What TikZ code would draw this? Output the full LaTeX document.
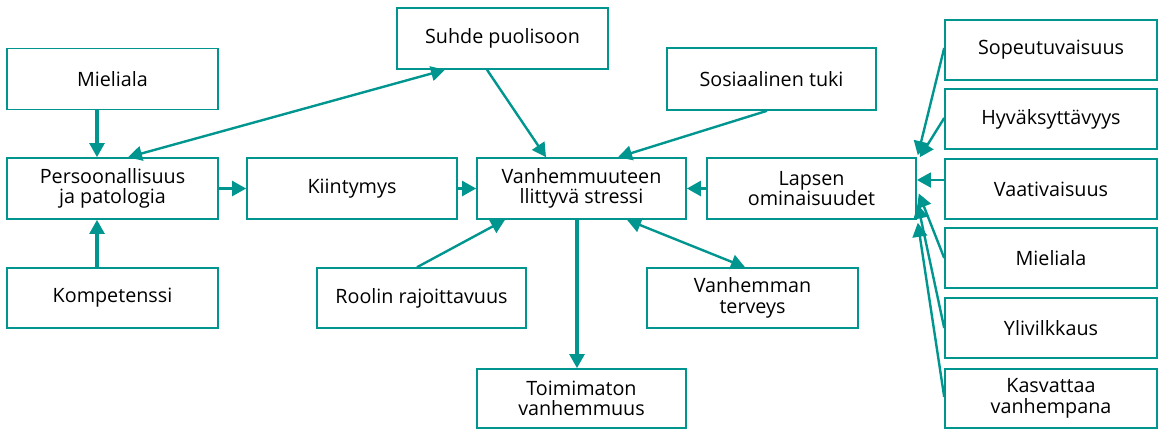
\documentclass[tikz,border=0pt]{standalone}
\usepackage{fontspec}
\setmainfont{Open Sans}
\usetikzlibrary{arrows.meta,calc}
\definecolor{teal1}{HTML}{00968F}
\begin{document}
\begin{tikzpicture}[x=0.75pt,y=-0.75pt,
  box/.style={draw=teal1,line width=1.6pt*0.75,inner sep=0pt,align=center,
    minimum width=210*0.75pt,minimum height=61*0.75pt,
    font=\fontsize{14.8}{15.5}\selectfont},
  arr/.style={draw=teal1,line width=2.4pt*0.75,-{Triangle[length=10.5pt,width=11pt]}},
  darr/.style={draw=teal1,line width=2.4pt*0.75,{Triangle[length=10.5pt,width=11pt]}-{Triangle[length=10.5pt,width=11pt]}},
  varr/.style={draw=teal1,line width=3.2pt*0.75,-{Triangle[length=10.5pt,width=11pt]}}]
\useasboundingbox (0,0) rectangle (1162,430);
% nodes
\node[box,minimum width=211*0.75pt] (mieli1) at (112.5,79) {Mieliala};
\node[box,minimum width=211*0.75pt] (pers) at (112.5,188.5) {Persoonallisuus\\ja patologia};
\node[box,minimum width=211*0.75pt,minimum height=60*0.75pt] (komp) at (112.5,298) {Kompetenssi};
\node[box] (kiin) at (352,188.5) {Kiintymys};
\node[box,minimum width=211*0.75pt] (suhde) at (502.5,38.5) {Suhde puolisoon};
\node[box,minimum width=209*0.75pt,minimum height=62*0.75pt] (sos) at (771.5,79) {Sosiaalinen tuki};
\node[box,minimum width=209*0.75pt] (vanh) at (581.5,188.5) {Vanhemmuuteen\\llittyvä stressi};
\node[box,minimum width=209*0.75pt] (lapsen) at (811.5,188.5) {Lapsen\\ominaisuudet};
\node[box,minimum width=209*0.75pt,minimum height=60*0.75pt] (rool) at (421.5,298) {Roolin rajoittavuus};
\node[box,minimum width=211*0.75pt,minimum height=60*0.75pt] (terv) at (752.5,298) {Vanhemman\\terveys};
\node[box,minimum width=209*0.75pt,minimum height=59*0.75pt] (toim) at (581.5,398.5) {Toimimaton\\vanhemmuus};
\node[box,minimum width=212*0.75pt,minimum height=60*0.75pt] (sop) at (1051,50) {Sopeutuvaisuus};
\node[box,minimum width=212*0.75pt,minimum height=60*0.75pt] (hyv) at (1051,119) {Hyväksyttävyys};
\node[box,minimum width=212*0.75pt,minimum height=60*0.75pt] (vaat) at (1051,189) {Vaativaisuus};
\node[box,minimum width=212*0.75pt,minimum height=60*0.75pt] (miel2) at (1051,258) {Mieliala};
\node[box,minimum width=212*0.75pt,minimum height=60*0.75pt] (yliv) at (1051,328) {Ylivilkkaus};
\node[box,minimum width=212*0.75pt,minimum height=59*0.75pt] (kasv) at (1051,398.5) {Kasvattaa\\vanhempana};
% connectors
\draw[varr] ($(mieli1.south)+(-15.5,0)$) -- ($(pers.north)+(-15.5,0)$);
\draw[varr] ($(komp.north)+(-15.5,0)$) -- ($(pers.south)+(-15.5,0)$);
\draw[varr] (pers.east) -- (kiin.west);
\draw[varr] (kiin.east) -- (vanh.west);
\draw[varr] (lapsen.west) -- (vanh.east);
\draw[darr] ($(pers.north)+(15.5,0)$) -- ($(suhde.south)+(-57.5,0)$);
\draw[arr] ($(suhde.south)+(-15.5,0)$) -- ($(vanh.north)+(-35.5,0)$);
\draw[arr] ($(sos.south)+(-4.5,0)$) -- ($(vanh.north)+(36.5,0)$);
\draw[arr] ($(rool.north)+(-4.5,0)$) -- ($(vanh.south)+(-76.5,0)$);
\draw[varr] ($(vanh.south)+(-4.5,0)$) -- ($(toim.north)+(-4.5,0)$);
\draw[darr] ($(vanh.south)+(45.5,0)$) -- ($(terv.north)+(-7.5,0)$);
\draw[arr] ($(sop.west)+(0,-2)$) -- ($(lapsen.north east)+(1,-2)$);
\draw[arr] ($(hyv.west)+(0,-1)$) -- ($(lapsen.north east)+(3,0)$);
\draw[arr] ($(vaat.west)+(0,-9)$) -- ($(lapsen.east)+(0,-8.5)$);
\draw[arr] (miel2.west) -- ($(lapsen.east)+(2,5)$);
\draw[arr] (yliv.west) -- ($(lapsen.east)+(1,16)$);
\draw[arr] ($(kasv.west)+(0,-1.5)$) -- ($(lapsen.south east)+(1,3)$);
\end{tikzpicture}
\end{document}
